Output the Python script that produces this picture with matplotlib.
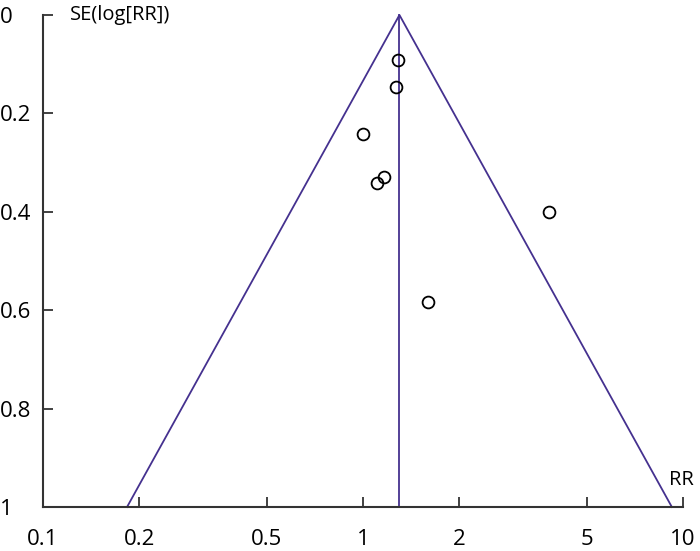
import numpy as np
import matplotlib
matplotlib.use("Agg")
import matplotlib.pyplot as plt

#===[ DADOS ]===#
rr = [1.286, 1.268, 1.00, 1.163, 1.106, 3.81, 1.596]
se = [0.0915, 0.146, 0.242, 0.329, 0.341, 0.400, 0.583]
rr_pooled = 1.30
x_ticks = [0.1, 0.2, 0.5, 1, 2, 5, 10]
x_labels = ["0.1", "0.2", "0.5", "1", "2", "5", "10"]
y_ticks = [0, 0.2, 0.4, 0.6, 0.8, 1]
y_labels = ["0", "0.2", "0.4", "0.6", "0.8", "1"]

plt.rcParams['font.family'] = ['Open Sans', 'DejaVu Sans']
TAM = 14.5
TAM_TICK = 16

fig = plt.figure(figsize=(7, 5.51), dpi=100)
ax = fig.add_axes([0.0614, 0.0799, 0.9143, 0.8929])

cor_funil = '#45318f'
se_max = 1.0
# funil (limites de 95%)
ax.plot([rr_pooled * np.exp(-1.96 * se_max), rr_pooled, rr_pooled * np.exp(1.96 * se_max)],
        [se_max, 0, se_max], color=cor_funil, lw=1.3, clip_on=False)
ax.plot([rr_pooled, rr_pooled], [0, se_max], color=cor_funil, lw=1.3, clip_on=False)

ax.plot(rr, se, linestyle='none', marker='o', markersize=8.5,
        markerfacecolor='none', markeredgecolor='black', markeredgewidth=1.3)

ax.set_xscale('log')
ax.set_xlim(0.1, 10)
ax.set_ylim(1, 0)

ax.set_xticks(x_ticks)
ax.set_xticklabels(x_labels)
ax.xaxis.set_minor_locator(matplotlib.ticker.NullLocator())
ax.set_yticks(y_ticks)
ax.set_yticklabels(y_labels)

for s in ['top', 'right']:
    ax.spines[s].set_visible(False)
for s in ['left', 'bottom']:
    ax.spines[s].set_color('#333333')
    ax.spines[s].set_linewidth(1.5)

ax.tick_params(axis='both', direction='in', length=7, width=1.3, color='#333333',
               labelsize=TAM_TICK, labelcolor='black')
ax.tick_params(axis='x', pad=16)
ax.tick_params(axis='y', pad=31)
for lbl in ax.get_yticklabels():
    lbl.set_horizontalalignment('left')

ax.text(0.042, 1.0, "SE(log[RR])", transform=ax.transAxes, fontsize=TAM,
        ha='left', va='center')
ax.text(0.998, 0.055, "RR", transform=ax.transAxes, fontsize=TAM,
        ha='center', va='center')

fig.savefig("out.png", dpi=100)
